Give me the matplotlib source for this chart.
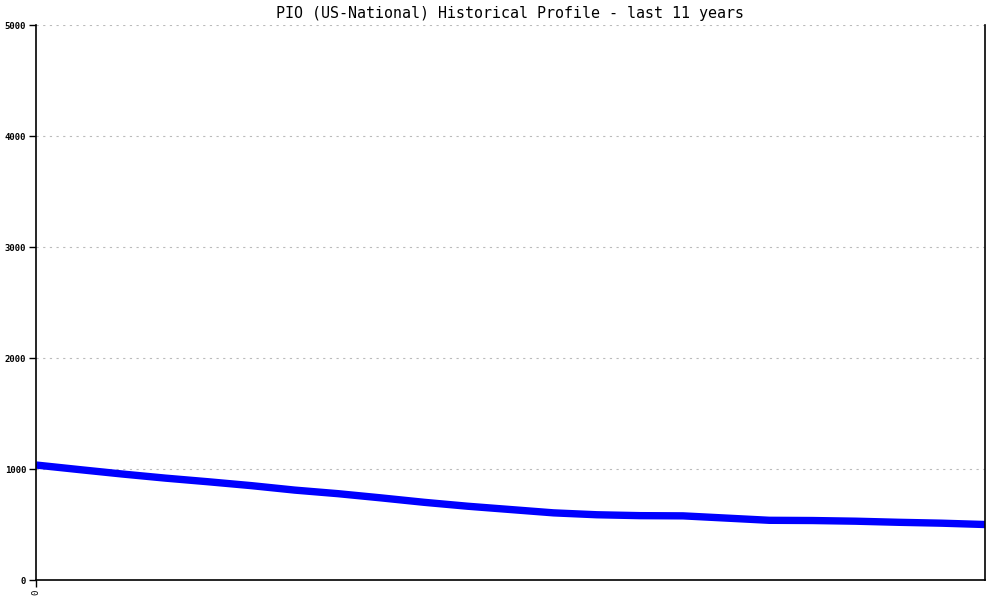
import matplotlib
matplotlib.use('Agg')
import matplotlib.pyplot as plt

# months since start of the 11-year window
months = [0, 6, 12, 18, 24, 30, 36, 42, 48, 54, 60, 66,
          72, 78, 84, 90, 96, 102, 108, 114, 120, 126, 132]
pio = [1036, 995, 955, 918, 885, 850, 810, 778, 740, 700, 665, 635,
       605, 588, 580, 578, 558, 538, 536, 530, 520, 512, 500]
y_ticks = [0, 1000, 2000, 3000, 4000, 5000]
x_ticks = [0]
x_labels = ['0']

fig = plt.figure(figsize=(10, 6), dpi=100)
ax = fig.add_axes([0.036, 0.0333, 0.949, 0.925])

ax.plot(months, pio, color='#0000ff', linewidth=5.3, solid_capstyle='butt')

ax.set_xlim(0, 132)
ax.set_ylim(0, 5000)
ax.set_yticks(y_ticks)
ax.set_yticklabels([str(v) for v in y_ticks], fontsize=6.5, family='DejaVu Sans Mono', fontweight='bold')
ax.set_xticks(x_ticks)
ax.set_xticklabels(x_labels, rotation=90, fontsize=6.5, family='DejaVu Sans Mono')
ax.tick_params(direction='out', length=5, width=1, colors='black', pad=2)

for y in y_ticks[1:]:
    ax.axhline(y, color='#bbbbbb', linestyle=(0, (2, 4)), linewidth=0.8, zorder=0)

ax.spines['top'].set_visible(False)
for s in ['left', 'bottom', 'right']:
    ax.spines[s].set_linewidth(1.2)

ax.set_title('PIO (US-National) Historical Profile - last 11 years',
             family='DejaVu Sans Mono', fontsize=10.8, pad=5)

fig.savefig('out.png')
